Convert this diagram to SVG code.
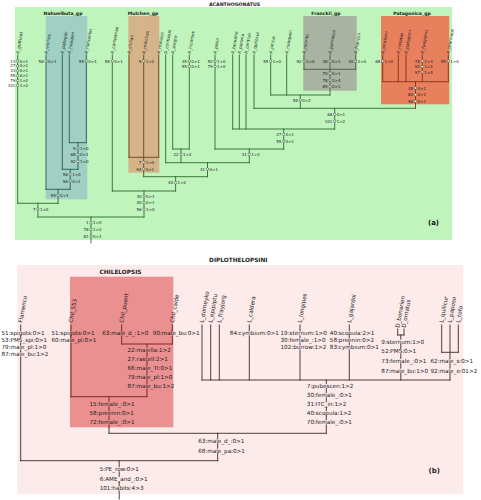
<svg xmlns="http://www.w3.org/2000/svg" width="481" height="500" viewBox="0 0 481 500">
<style>
text{font-family:"DejaVu Sans","Liberation Sans",sans-serif;fill:#1a1a1a}
.tl{font-size:4.3px}
.mk{font-size:4px}
.r{text-anchor:end}
.tb{font-size:5.65px}
.hd{font-weight:bold;text-anchor:middle}
.ln{fill:none;stroke-width:0.9;stroke-linecap:square}
.ga{stroke:#2e6a2c}
.gn{stroke:#2b5c56}
.gm{stroke:#6b4318}
.gf{stroke:#4d5b46}
.gp{stroke:#8c2e12}
.lb{stroke:#3a2a2a}
.lc{stroke:#6e1e1e}
.dot{fill:#fff;stroke:#1f3f1f;stroke-width:0.5}
</style>
<!-- Panel a -->
<g id="panel-a">
<rect x="15" y="7" width="437" height="233" fill="#bff5bd"/>
<text class="hd" x="234.5" y="5.8" style="font-size:4.7px">ACANTHOGONATUS</text>
<g id="Nahuelbuta_gp"><rect x="45.7" y="16" width="41.6" height="183.3" fill="#9fd0c3"/><text class="hd" x="63" y="15" style="font-size:4.6px">Nahuelbuta_gp</text></g>
<g id="Mulchen_gp"><rect x="128.3" y="16" width="31" height="156.7" fill="#d5b48a"/><text class="hd" x="143" y="15" style="font-size:4.6px">Mulchen_gp</text></g>
<g id="Franckii_gp"><rect x="303.3" y="16" width="53.4" height="74.7" fill="#a8b3a2"/><text class="hd" x="326" y="15" style="font-size:4.6px">Franckii_gp</text></g>
<g id="Patagonica_gp"><rect x="381" y="16" width="68.3" height="88.3" fill="#e8805e"/><text class="hd" x="412" y="15" style="font-size:4.6px">Patagonica_gp</text></g>
<text class="hd" x="433.5" y="225.2" style="font-size:7px">(a)</text>
</g>
<g id="taxa-a" class="tl">
<g id="A_guttulat"><text transform="translate(19,54) rotate(-80)">A_guttulat</text></g>
<g id="A_vilches"><text transform="translate(47.3,54) rotate(-80)">A_vilches</text></g>
<g id="A_patagall"><text transform="translate(63.6,54) rotate(-80)">A_patagall</text></g>
<g id="A_hualpen"><text transform="translate(70.6,54) rotate(-80)">A_hualpen</text></g>
<g id="A_nahuelbu"><text transform="translate(87.6,54) rotate(-80)">A_nahuelbu</text></g>
<g id="A_campanae"><text transform="translate(113.6,54) rotate(-80)">A_campanae</text></g>
<g id="A_chillan"><text transform="translate(130.3,54) rotate(-80)">A_chillan</text></g>
<g id="A_mulchen"><text transform="translate(145,54) rotate(-80)">A_mulchen</text></g>
<g id="A_malleco"><text transform="translate(160,54) rotate(-80)">A_malleco</text></g>
<g id="A_confusus"><text transform="translate(167,54) rotate(-80)">A_confusus</text></g>
<g id="A_alegre"><text transform="translate(174,54) rotate(-80)">A_alegre</text></g>
<g id="A_incursus"><text transform="translate(190.6,54) rotate(-80)">A_incursus</text></g>
<g id="A_pissii"><text transform="translate(216.3,54) rotate(-80)">A_pissii</text></g>
<g id="A_tacuarie"><text transform="translate(234,54) rotate(-80)">A_tacuarie</text></g>
<g id="A_parana"><text transform="translate(240.6,54) rotate(-80)">A_parana</text></g>
<g id="A_centrali"><text transform="translate(247.3,54) rotate(-80)">A_centrali</text></g>
<g id="A_quilocur"><text transform="translate(255.3,54) rotate(-80)">A_quilocur</text></g>
<g id="A_juncal"><text transform="translate(272,54) rotate(-80)">A_juncal</text></g>
<g id="A_huaquen"><text transform="translate(288,54) rotate(-80)">A_huaquen</text></g>
<g id="A_recinto"><text transform="translate(305.3,54) rotate(-80)">A_recinto</text></g>
<g id="A_peniasco"><text transform="translate(331.3,54) rotate(-80)">A_peniasco</text></g>
<g id="A_franckii"><text transform="translate(357,54) rotate(-80)">A_franckii</text></g>
<g id="A_birabeni"><text transform="translate(384,54) rotate(-80)">A_birabeni</text></g>
<g id="A_notatus"><text transform="translate(399.6,54) rotate(-80)">A_notatus</text></g>
<g id="A_patagoni"><text transform="translate(407.3,54) rotate(-80)">A_patagoni</text></g>
<g id="A_fuegianu"><text transform="translate(423.6,54) rotate(-80)">A_fuegianu</text></g>
<g id="A_brunneus"><text transform="translate(449.6,54) rotate(-80)">A_brunneus</text></g>
</g>
<g id="connectors-a">
<path class="ln ga" d="M17.7 55V203.3M112.3 55V191M165.7 55V162.7M172.7 55V149M189.3 55V149M215 55V149M232.7 55V129M239.3 55V129M246 55V129M254 55V108.3M270.7 55V95M286.7 55V95M17.7 203.3H58.1M37.9 203.3V217M172.7 149H189.3M181 149V162.7M165.7 162.7H249.3M207.5 162.7V176.7M215 149H283.7M249.3 149V162.7M232.7 129H334.7M283.7 129V149M254 108.3H415.5M334.7 108.3V129M270.7 95H330M300.3 95V108.3M143.7 176.7H207.5M175.6 176.7V191M112.3 191H175.6M144 191V217M37.9 217H144M91 217V243"/>
<path class="ln gn" d="M46 55V189.3M62.3 55V169.3M69.3 55V142.7M86.3 55V142.7M69.3 142.7H86.3M78 142.7V169.3M62.3 169.3H78M70.2 169.3V189.3M46 189.3H70.2M58.1 189.3V203.3"/>
<path class="ln gm" d="M129 55V157.3M143.7 55V176.7M158.7 55V157.3M129 157.3H158.7"/>
<path class="ln gf" d="M304 55V69.3M330 55V95M355.7 55V69.3M304 69.3H355.7"/>
<path class="ln gp" d="M382.7 55V81.7M398.3 55V81.7M406 55V81.7M422.3 55V81.7M448.3 55V81.7M382.7 81.7H448.3M415.5 81.7V108.3"/>
</g>
<g id="marks-a" class="mk">
<text class="r" x="15.3" y="62.5">13</text><circle class="dot" cx="17.7" cy="61" r="1.2"/><text x="19.7" y="62.5">0&gt;1</text>
<text class="r" x="15.3" y="67.4">27</text><circle class="dot" cx="17.7" cy="65.9" r="1.2"/><text x="19.7" y="67.4">0&gt;1</text>
<text class="r" x="15.3" y="72.3">33</text><circle class="dot" cx="17.7" cy="70.8" r="1.2"/><text x="19.7" y="72.3">0&gt;1</text>
<text class="r" x="15.3" y="77.2">55</text><circle class="dot" cx="17.7" cy="75.7" r="1.2"/><text x="19.7" y="77.2">0&gt;1</text>
<text class="r" x="15.3" y="82.1">79</text><circle class="dot" cx="17.7" cy="80.6" r="1.2"/><text x="19.7" y="82.1">1&gt;2</text>
<text class="r" x="15.3" y="87">101</text><circle class="dot" cx="17.7" cy="85.5" r="1.2"/><text x="19.7" y="87">1&gt;2</text>
<text class="r" x="43.6" y="62.5">58</text><circle class="dot" cx="46" cy="61" r="1.2"/><text x="48" y="62.5">0&gt;1</text>
<text class="r" x="83.9" y="62.5">55</text><circle class="dot" cx="86.3" cy="61" r="1.2"/><text x="88.3" y="62.5">0&gt;1</text>
<text class="r" x="109.9" y="62.5">58</text><circle class="dot" cx="112.3" cy="61" r="1.2"/><text x="114.3" y="62.5">0&gt;1</text>
<text class="r" x="141.3" y="62.5">9</text><circle class="dot" cx="143.7" cy="61" r="1.2"/><text x="145.7" y="62.5">1&gt;2</text>
<text class="r" x="186.9" y="62.5">35</text><circle class="dot" cx="189.3" cy="61" r="1.2"/><text x="191.3" y="62.5">0&gt;1</text>
<text class="r" x="186.9" y="68">55</text><circle class="dot" cx="189.3" cy="66.5" r="1.2"/><text x="191.3" y="68">0&gt;1</text>
<text class="r" x="212.6" y="62.5">50</text><circle class="dot" cx="215" cy="61" r="1.2"/><text x="217" y="62.5">1&gt;0</text>
<text class="r" x="212.6" y="68">79</text><circle class="dot" cx="215" cy="66.5" r="1.2"/><text x="217" y="68">1&gt;0</text>
<text class="r" x="268.3" y="62.5">55</text><circle class="dot" cx="270.7" cy="61" r="1.2"/><text x="272.7" y="62.5">1&gt;0</text>
<text class="r" x="301.6" y="62.5">92</text><circle class="dot" cx="304" cy="61" r="1.2"/><text x="306" y="62.5">1&gt;0</text>
<text class="r" x="327.6" y="62.5">48</text><circle class="dot" cx="330" cy="61" r="1.2"/><text x="332" y="62.5">0&gt;1</text>
<text class="r" x="353.3" y="62.5">40</text><circle class="dot" cx="355.7" cy="61" r="1.2"/><text x="357.7" y="62.5">2&gt;0</text>
<text class="r" x="380.3" y="62.5">68</text><circle class="dot" cx="382.7" cy="61" r="1.2"/><text x="384.7" y="62.5">1&gt;0</text>
<text class="r" x="419.9" y="62.5">78</text><circle class="dot" cx="422.3" cy="61" r="1.2"/><text x="424.3" y="62.5">2&gt;4</text>
<text class="r" x="419.9" y="68">92</text><circle class="dot" cx="422.3" cy="66.5" r="1.2"/><text x="424.3" y="68">1&gt;2</text>
<text class="r" x="419.9" y="73.5">97</text><circle class="dot" cx="422.3" cy="72" r="1.2"/><text x="424.3" y="73.5">1&gt;0</text>
<text class="r" x="445.9" y="62.5">55</text><circle class="dot" cx="448.3" cy="61" r="1.2"/><text x="450.3" y="62.5">1&gt;0</text>
<text class="r" x="75.6" y="149.5">9</text><circle class="dot" cx="78" cy="148" r="1.2"/><text x="80" y="149.5">1&gt;0</text>
<text class="r" x="75.6" y="156.2">68</text><circle class="dot" cx="78" cy="154.7" r="1.2"/><text x="80" y="156.2">0&gt;1</text>
<text class="r" x="75.6" y="162.8">92</text><circle class="dot" cx="78" cy="161.3" r="1.2"/><text x="80" y="162.8">1&gt;0</text>
<text class="r" x="67.8" y="175.8">56</text><circle class="dot" cx="70.2" cy="174.3" r="1.2"/><text x="72.2" y="175.8">1&gt;0</text>
<text class="r" x="67.8" y="182.5">96</text><circle class="dot" cx="70.2" cy="181" r="1.2"/><text x="72.2" y="182.5">0&gt;1</text>
<text class="r" x="55.7" y="196.5">95</text><circle class="dot" cx="58.1" cy="195" r="1.2"/><text x="60.1" y="196.5">0&gt;1</text>
<text class="r" x="35.5" y="210.5">7</text><circle class="dot" cx="37.9" cy="209" r="1.2"/><text x="39.9" y="210.5">1&gt;0</text>
<text class="r" x="141.3" y="163.8">7</text><circle class="dot" cx="143.7" cy="162.3" r="1.2"/><text x="145.7" y="163.8">1&gt;0</text>
<text class="r" x="141.3" y="170.5">94</text><circle class="dot" cx="143.7" cy="169" r="1.2"/><text x="145.7" y="170.5">0&gt;1</text>
<text class="r" x="178.6" y="155.8">22</text><circle class="dot" cx="181" cy="154.3" r="1.2"/><text x="183" y="155.8">1&gt;2</text>
<text class="r" x="327.6" y="74.8">70</text><circle class="dot" cx="330" cy="73.3" r="1.2"/><text x="332" y="74.8">0&gt;1</text>
<text class="r" x="327.6" y="81.5">78</text><circle class="dot" cx="330" cy="80" r="1.2"/><text x="332" y="81.5">2&gt;4</text>
<text class="r" x="327.6" y="88.2">89</text><circle class="dot" cx="330" cy="86.7" r="1.2"/><text x="332" y="88.2">0&gt;1</text>
<text class="r" x="297.9" y="101.5">58</text><circle class="dot" cx="300.3" cy="100" r="1.2"/><text x="302.3" y="101.5">0&gt;2</text>
<text class="r" x="413.1" y="89.5">48</text><circle class="dot" cx="415.5" cy="88" r="1.2"/><text x="417.5" y="89.5">0&gt;1</text>
<text class="r" x="413.1" y="96.2">80</text><circle class="dot" cx="415.5" cy="94.7" r="1.2"/><text x="417.5" y="96.2">0&gt;1</text>
<text class="r" x="413.1" y="102.8">98</text><circle class="dot" cx="415.5" cy="101.3" r="1.2"/><text x="417.5" y="102.8">0&gt;1</text>
<text class="r" x="332.3" y="115.8">68</text><circle class="dot" cx="334.7" cy="114.3" r="1.2"/><text x="336.7" y="115.8">0&gt;1</text>
<text class="r" x="332.3" y="122.5">101</text><circle class="dot" cx="334.7" cy="121" r="1.2"/><text x="336.7" y="122.5">1&gt;2</text>
<text class="r" x="281.3" y="135.8">27</text><circle class="dot" cx="283.7" cy="134.3" r="1.2"/><text x="285.7" y="135.8">0&gt;1</text>
<text class="r" x="281.3" y="142.5">55</text><circle class="dot" cx="283.7" cy="141" r="1.2"/><text x="285.7" y="142.5">0&gt;1</text>
<text class="r" x="246.9" y="155.8">31</text><circle class="dot" cx="249.3" cy="154.3" r="1.2"/><text x="251.3" y="155.8">1&gt;2</text>
<text class="r" x="205.1" y="170.5">31</text><circle class="dot" cx="207.5" cy="169" r="1.2"/><text x="209.5" y="170.5">0&gt;1</text>
<text class="r" x="173.2" y="184.2">40</text><circle class="dot" cx="175.6" cy="182.7" r="1.2"/><text x="177.6" y="184.2">1&gt;2</text>
<text class="r" x="141.6" y="197.5">30</text><circle class="dot" cx="144" cy="196" r="1.2"/><text x="146" y="197.5">0&gt;1</text>
<text class="r" x="141.6" y="204.2">40</text><circle class="dot" cx="144" cy="202.7" r="1.2"/><text x="146" y="204.2">0&gt;1</text>
<text class="r" x="141.6" y="210.8">56</text><circle class="dot" cx="144" cy="209.3" r="1.2"/><text x="146" y="210.8">1&gt;0</text>
<text class="r" x="88.6" y="224.2">1</text><circle class="dot" cx="91" cy="222.7" r="1.2"/><text x="93" y="224.2">1&gt;0</text>
<text class="r" x="88.6" y="230.8">78</text><circle class="dot" cx="91" cy="229.3" r="1.2"/><text x="93" y="230.8">1&gt;2</text>
<text class="r" x="88.6" y="237.5">81</text><circle class="dot" cx="91" cy="236" r="1.2"/><text x="93" y="237.5">0&gt;1</text>
</g>
<!-- Panel b -->
<g id="panel-b">
<rect x="17.3" y="265" width="446" height="229" fill="#fdeaea"/>
<text class="hd" x="238.3" y="262" style="font-size:5.8px">DIPLOTHELOPSINI</text>
<g id="CHILELOPSIS"><rect x="70" y="276.7" width="103.3" height="150.6" fill="#eb9090"/><text class="hd" x="120.5" y="274.3" style="font-size:5.8px">CHILELOPSIS</text></g>
<text class="hd" x="434.3" y="472.5" style="font-size:7px">(b)</text>
</g>
<g id="taxa-b" class="tb">
<g id="Flamenco"><text transform="translate(22.3,323) rotate(-80)">Flamenco</text></g>
<g id="Chil_553"><text transform="translate(72.6,323) rotate(-80)">Chil_553</text></g>
<g id="Chil_puent"><text transform="translate(123.3,323) rotate(-80)">Chil_puent</text></g>
<g id="Chil_calde"><text transform="translate(173.9,323) rotate(-80)">Chil_calde</text></g>
<g id="L_domeyko"><text transform="translate(203.6,323) rotate(-80)">L_domeyko</text></g>
<g id="L_epipiptu"><text transform="translate(212.3,323) rotate(-80)">L_epipiptu</text></g>
<g id="L_frayjorg"><text transform="translate(220.9,323) rotate(-80)">L_frayjorg</text></g>
<g id="L_caldera"><text transform="translate(250.9,323) rotate(-80)">L_caldera</text></g>
<g id="L_longipes"><text transform="translate(301.6,323) rotate(-80)">L_longipes</text></g>
<g id="L_gajardoi"><text transform="translate(350.9,323) rotate(-80)">L_gajardoi</text></g>
<g id="D_bonarien"><text transform="translate(399.3,328) rotate(-80)">D_bonarien</text></g>
<g id="D_ornatus"><text transform="translate(405.6,328) rotate(-80)">D_ornatus</text></g>
<g id="L_quilicur"><text transform="translate(443.3,323) rotate(-80)">L_quilicur</text></g>
<g id="L_paposo"><text transform="translate(451.6,323) rotate(-80)">L_paposo</text></g>
<g id="L_tofo"><text transform="translate(459.9,323) rotate(-80)">L_tofo</text></g>
</g>
<g id="connectors-b">
<path class="ln lb" d="M20.7 325V330.7M20.7 335.9V337.7M20.7 342.9V344.7M20.7 349.9V351.7M20.7 356.9V460.7M202 325V380M210.7 325V380M219.3 325V380M249.3 325V330.7M249.3 335.9V380M300 325V330.7M300 335.9V337.7M300 342.9V344.7M300 349.9V380M349.3 325V330.7M349.3 335.9V337.7M349.3 342.9V344.7M349.3 349.9V380M397.7 329V335M404 329V335M397.7 335H404M400.8 335V339.1M400.8 344.3V348.7M400.8 353.9V358.4M400.8 363.6V368.1M400.8 373.3V380M441.7 325V352.3M458.3 325V352.3M441.7 352.3H458.3M450 325V358.4M450 363.6V368.1M450 373.3V380M202 380H450M326.3 380V383.4M326.3 388.6V392.7M326.3 397.9V401.7M326.3 406.9V410.7M326.3 415.9V419.7M326.3 424.9V433.3M109 427.3V433.3M109 433.3H326.3M217.7 433.3V438.4M217.7 443.6V448.1M217.7 453.3V460.7M20.7 460.7H217.7M119.2 460.7V466.7M119.2 471.9V476.4M119.2 481.6V485.7M119.2 490.9V499"/>
<path class="ln lc" d="M71 325V330.7M71 335.9V337.7M71 342.9V396.7M121.7 325V330.7M121.7 335.9V344M172.3 325V330.7M172.3 335.9V344M121.7 344H172.3M147 344V347.4M147 352.6V356.4M147 361.6V365.4M147 370.6V374.4M147 379.6V383.4M147 388.6V396.7M71 396.7H147M109 396.7V401.4M109 406.6V410.7M109 415.9V419.7M109 424.9V427.3"/>
</g>
<g id="labels-b" class="tb">
<text x="1.5" y="335.3">51:spigots:0&gt;1</text>
<text x="1.5" y="342.3">53:PMS_spi:0&gt;1</text>
<text x="1.5" y="349.3">79:male_pl:1&gt;0</text>
<text x="1.5" y="356.3">87:male_bu:1&gt;2</text>
<text x="51.5" y="335.3">51:spigots:0&gt;1</text>
<text x="51.5" y="342.3">60:male_pl:0&gt;1</text>
<text x="102.2" y="335.3">63:male_d_:1&gt;0</text>
<text x="152.8" y="335.3">90:male_bu:0&gt;1</text>
<text x="127.5" y="352">22:maxilla:1&gt;2</text>
<text x="127.5" y="361">27:rastell:2&gt;1</text>
<text x="127.5" y="370">66:male_TI:0&gt;1</text>
<text x="127.5" y="379">79:male_pl:1&gt;0</text>
<text x="127.5" y="388">87:male_bu:1&gt;2</text>
<text x="89.5" y="406">15:female_:0&gt;1</text>
<text x="89.5" y="415.3">58:preenin:0&gt;1</text>
<text x="89.5" y="424.3">72:female_:0&gt;1</text>
<text x="229.8" y="335.3">84:cymbium:0&gt;1</text>
<text x="280.5" y="335.3">19:sternum:1&gt;0</text>
<text x="280.5" y="342.3">30:female_:1&gt;0</text>
<text x="280.5" y="349.3">102:burrow:1&gt;2</text>
<text x="329.8" y="335.3">40:scopula:2&gt;1</text>
<text x="329.8" y="342.3">58:preenin:0&gt;2</text>
<text x="329.8" y="349.3">83:cymbium:0&gt;1</text>
<text x="381.3" y="343.7">9:sternum:1&gt;0</text>
<text x="381.3" y="353.3">52:PMS:0&gt;1</text>
<text x="381.3" y="363">73:female_:0&gt;1</text>
<text x="381.3" y="372.7">87:male_bu:1&gt;0</text>
<text x="430.5" y="363">62:male_s:0&gt;1</text>
<text x="430.5" y="372.7">92:male_e:01&gt;2</text>
<text x="306.8" y="388">7:pubescen:1&gt;2</text>
<text x="306.8" y="397.3">30:female_:0&gt;1</text>
<text x="306.8" y="406.3">31:ITC_in:1&gt;2</text>
<text x="306.8" y="415.3">40:scopula:1&gt;2</text>
<text x="306.8" y="424.3">70:female_:0&gt;1</text>
<text x="198.2" y="443">63:male_d_:0&gt;1</text>
<text x="198.2" y="452.7">68:male_pa:0&gt;1</text>
<text x="99.7" y="471.3">5:PE_row:0&gt;1</text>
<text x="99.7" y="481">6:AME_and_:0&gt;1</text>
<text x="99.7" y="490.3">101:habits:4&gt;3</text>
</g>
</svg>
